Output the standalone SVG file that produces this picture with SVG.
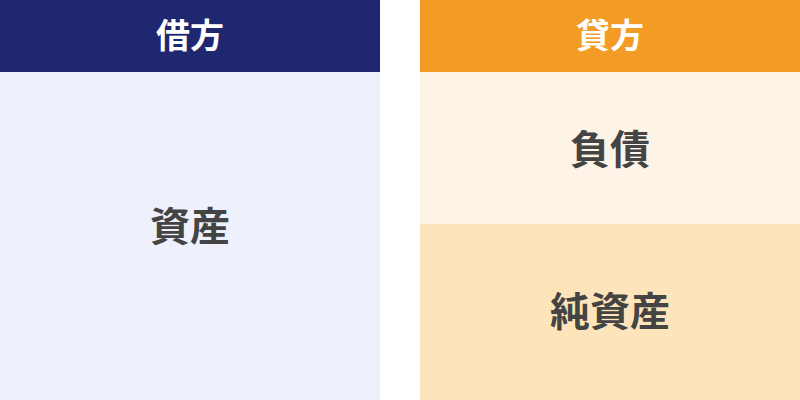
<svg xmlns="http://www.w3.org/2000/svg" width="800" height="400" viewBox="0 0 800 400">
<style>
.h{font-family:"Noto Sans CJK JP","Noto Sans CJK SC",sans-serif;font-weight:700;font-size:34px;fill:#ffffff;text-anchor:middle}
.b{font-family:"Noto Sans CJK JP","Noto Sans CJK SC",sans-serif;font-weight:700;font-size:40px;fill:#444444;text-anchor:middle}
</style>
<rect x="0" y="0" width="800" height="400" fill="#ffffff"/>
<g id="debit-header"><rect x="0" y="0" width="380" height="72" fill="#1f2771"/><text class="h" x="190" y="48">借方</text></g>
<g id="assets"><rect x="0" y="72" width="380" height="328" fill="#eef0fb"/><text class="b" x="190" y="241">資産</text></g>
<g id="credit-header"><rect x="420" y="0" width="380" height="72" fill="#f39c25"/><text class="h" x="610" y="48">貸方</text></g>
<g id="liabilities"><rect x="420" y="72" width="380" height="152" fill="#fef3e7"/><text class="b" x="610" y="164">負債</text></g>
<g id="net-assets"><rect x="420" y="224" width="380" height="176" fill="#fde4bb"/><text class="b" x="610" y="326">純資産</text></g>
<g id="connectors"></g>
</svg>
